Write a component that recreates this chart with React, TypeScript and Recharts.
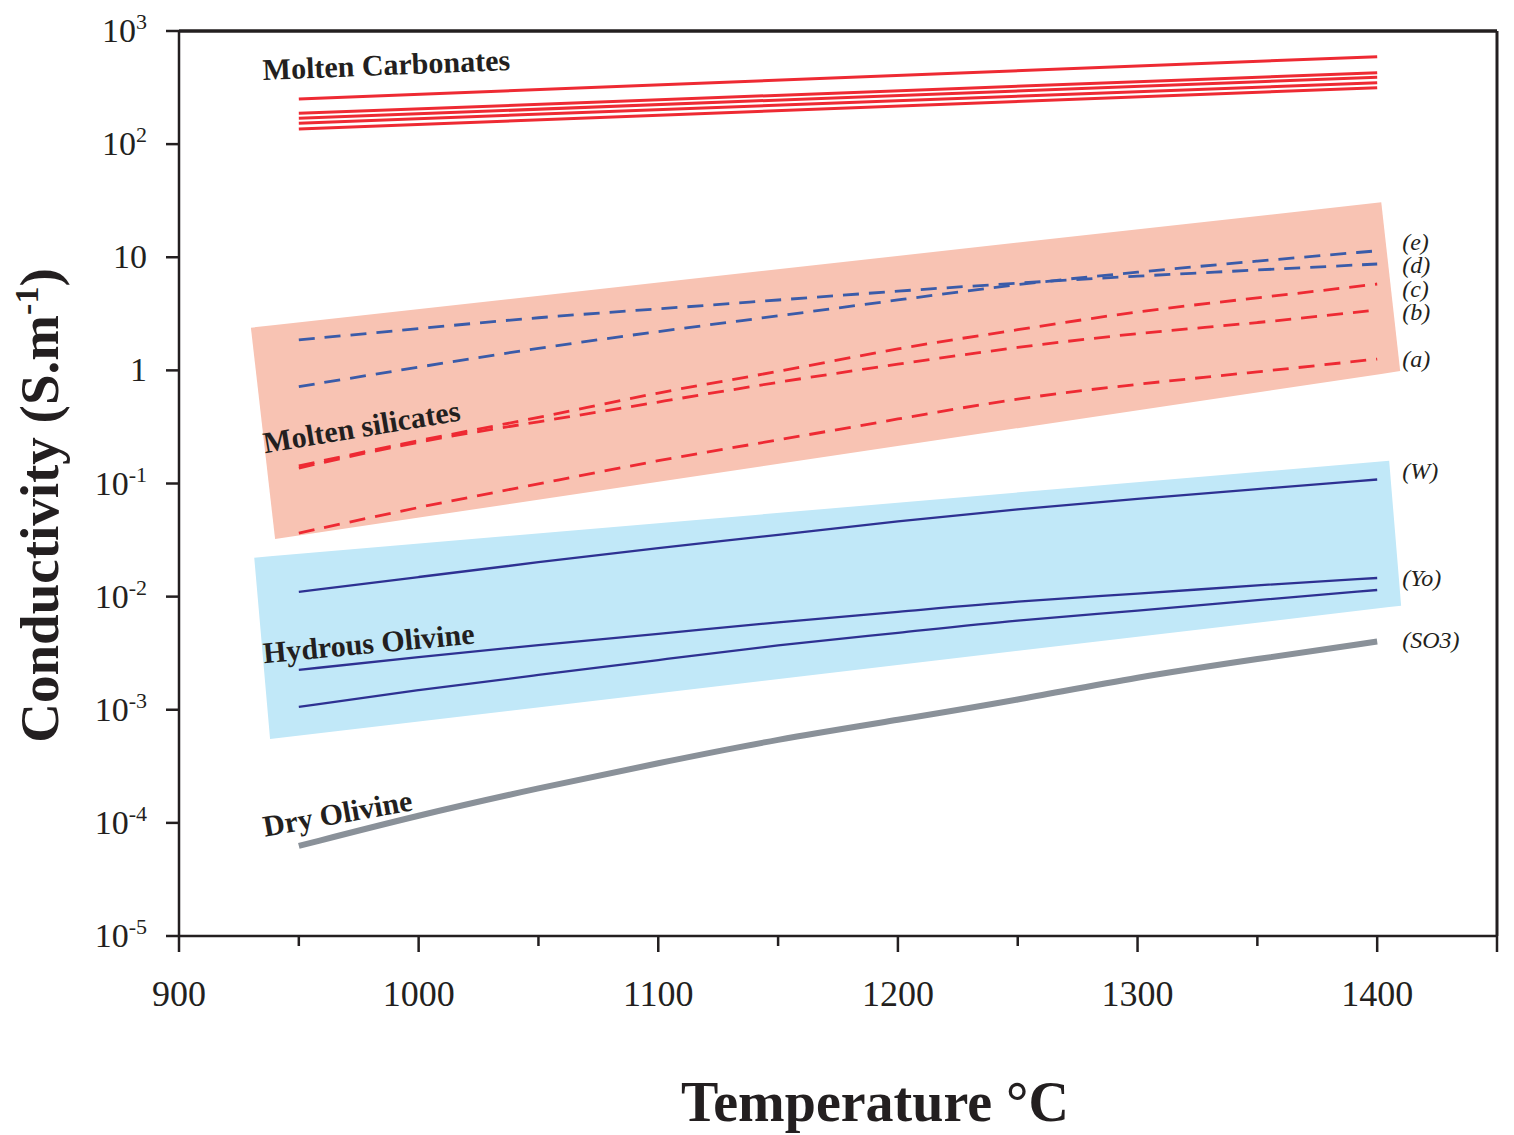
import React from 'react';
import { ComposedChart, Line, Area, XAxis, YAxis, ReferenceLine, ReferenceDot } from 'recharts';

// ---------- data ----------
const temps = [950, 1000, 1050, 1100, 1150, 1200, 1250, 1300, 1350, 1400];
const carbTemps = [950, 1400];

// Molten carbonates (S/m)
const carbonate1 = [251, 593];
const carbonate2 = [187, 428];
const carbonate3 = [169, 390];
const carbonate4 = [153, 349];
const carbonate5 = [136, 315];

// Molten silicates (S/m)
const silicateE = [0.718, 1.07, 1.58, 2.21, 3.03, 4.19, 5.8, 7.41, 9.26, 11.4];
const silicateD = [1.86, 2.34, 2.95, 3.49, 4.19, 5.03, 5.92, 6.83, 7.72, 8.72];
const silicateC = [0.143, 0.242, 0.379, 0.644, 0.967, 1.58, 2.28, 3.35, 4.36, 5.8];
const silicateB = [0.137, 0.238, 0.35, 0.525, 0.789, 1.14, 1.61, 2.14, 2.62, 3.42];
const silicateA = [0.0365, 0.062, 0.099, 0.161, 0.242, 0.372, 0.57, 0.758, 0.967, 1.26];

// Hydrous olivine (S/m)
const olivineW = [0.011, 0.0149, 0.0202, 0.0269, 0.0351, 0.0466, 0.0595, 0.073, 0.0894, 0.1085];
const olivineYo = [0.00225, 0.00293, 0.00374, 0.00467, 0.00597, 0.00731, 0.00915, 0.01055, 0.01267, 0.01461];
const olivineLow = [0.00106, 0.0015, 0.00203, 0.00275, 0.00374, 0.00477, 0.00622, 0.00746, 0.00934, 0.01144];

// Dry olivine SO3 (S/m)
const dryOlivine = [0.0000625, 0.000117, 0.000203, 0.000338, 0.000551, 0.000812, 0.00122, 0.00195, 0.00281, 0.00401];

// Shaded fields (corner temperatures, lower / upper conductivity)
const meltBandT = [930.0, 940.1, 1401.7, 1409.6];
const meltBandLow = [2.384, 0.0323, 0.931, 0.987];
const meltBandHigh = [2.384, 2.518, 30.6, 0.987];

const olivineBandT = [931.4, 938.0, 1405.0, 1410.0];
const olivineBandLow = [0.0221, 0.000551, 0.00808, 0.00831];
const olivineBandHigh = [0.0221, 0.0227, 0.159, 0.00831];

// Axis ticks
const xTicks = [900, 950, 1000, 1050, 1100, 1150, 1200, 1250, 1300, 1350, 1400, 1450];
const yTicks = [1e-5, 1e-4, 1e-3, 1e-2, 1e-1, 1, 10, 100, 1000];

// Labels
const regionNames = ['Molten Carbonates', 'Molten silicates', 'Hydrous Olivine', 'Dry Olivine'];
const regionLabelT = [935.1, 935.9, 935.5, 935.9];
const regionLabelV = [369, 0.185, 0.00258, 0.0000755];
const regionLabelAngle = [-2.3, -9.5, -5.3, -10.1];

const endNames = ['(e)', '(d)', '(c)', '(b)', '(a)', '(W)', '(Yo)', '(SO3)'];
const endValues = [silicateE, silicateD, silicateC, silicateB, silicateA, olivineW, olivineYo, dryOlivine].map(
  (s) => s[s.length - 1]
);
const endShift = [-9, 1, 5, 2, 0, -8, 0, -2];

// ---------- helpers ----------
const toSeries = (xs: number[], ys: number[]) => xs.map((t, i) => ({ t, v: ys[i] }));
const toBand = (xs: number[], lo: number[], hi: number[]) => xs.map((t, i) => ({ t, range: [lo[i], hi[i]] }));

const INK = '#231F20';
const FONT = '"Liberation Serif", "Times New Roman", Times, serif';
const RED = '#EE2A33';
const DASH_BLUE = '#3A5BA9';
const DARK_BLUE = '#2E3192';
const GRAY = '#8A9199';

function XTick(props: any) {
  const { x, y, payload } = props;
  const v = payload.value;
  const major = v % 100 === 0 || v === 1450;
  return (
    <g>
      <line x1={x} x2={x} y1={y} y2={y + (major ? 16 : 10)} stroke={INK} strokeWidth={2.5} />
      {v % 100 === 0 ? (
        <text x={x} y={y + 70} textAnchor="middle" fontFamily={FONT} fontSize={36} fill={INK}>
          {v}
        </text>
      ) : null}
    </g>
  );
}

function YTick(props: any) {
  const { x, y, payload } = props;
  const e = Math.round(Math.log10(payload.value));
  return (
    <g>
      <line x1={x - 13} x2={x} y1={y} y2={y} stroke={INK} strokeWidth={2.5} />
      <text x={x - 32} y={y + 11} textAnchor="end" fontFamily={FONT} fontSize={34} fill={INK}>
        {e === 0 ? '1' : e === 1 ? '10' : (
          <>
            <tspan>10</tspan>
            <tspan dy={-13} fontSize={22}>{String(e)}</tspan>
          </>
        )}
      </text>
    </g>
  );
}

function YTitle(props: any) {
  const vb = props.viewBox || { x: 0, y: 23, width: 171, height: 905 };
  const cx = vb.x + 50;
  const cy = vb.y + vb.height / 2 + 22;
  return (
    <text
      x={cx}
      y={cy}
      transform={`rotate(-90 ${cx} ${cy})`}
      textAnchor="middle"
      fontFamily={FONT}
      fontWeight="bold"
      fontSize={55}
      fill={INK}
    >
      Conductivity (S.m
      <tspan dy={-20} fontSize={34}>-1</tspan>
      <tspan dy={20}>)</tspan>
    </text>
  );
}

function XTitle(props: any) {
  const vb = props.viewBox || { x: 171, y: 928, width: 1318, height: 199 };
  const cx = vb.x + vb.width / 2 + 37;
  const cy = vb.y + 185;
  return (
    <text x={cx} y={cy} textAnchor="middle" fontFamily={FONT} fontWeight="bold" fontSize={56} fill={INK}>
      Temperature °C
    </text>
  );
}

function RegionText(props: any) {
  const { viewBox, caption, rot } = props;
  if (!viewBox) return null;
  const x = viewBox.x + (viewBox.width || 0) / 2;
  const y = viewBox.y + (viewBox.height || 0) / 2;
  return (
    <text
      x={x}
      y={y}
      transform={`rotate(${rot} ${x} ${y})`}
      fontFamily={FONT}
      fontWeight="bold"
      fontSize={30}
      fill={INK}
    >
      {caption}
    </text>
  );
}

function EndText(props: any) {
  const { viewBox, caption, shift } = props;
  if (!viewBox) return null;
  const x = viewBox.x + (viewBox.width || 0) / 2;
  const y = viewBox.y + (viewBox.height || 0) / 2;
  return (
    <text x={x + 25} y={y + shift + 8} fontFamily={FONT} fontStyle="italic" fontSize={24} fill={INK}>
      {caption}
    </text>
  );
}

export default function App() {
  const carbs = [carbonate1, carbonate2, carbonate3, carbonate4, carbonate5];
  const silicatesBlue = [silicateE, silicateD];
  const silicatesRed = [silicateC, silicateB, silicateA];
  const hydrous = [olivineW, olivineYo, olivineLow];

  return (
    <div style={{ width: 1506, height: 1127 }}>
      <ComposedChart width={1506} height={1127} margin={{ top: 23, right: 17, bottom: 0, left: 0 }}>
        <XAxis
          type="number"
          dataKey="t"
          domain={[900, 1450]}
          ticks={xTicks}
          interval={0}
          allowDataOverflow
          height={199}
          tickSize={0}
          tickMargin={0}
          tickLine={false}
          tick={<XTick />}
          axisLine={{ stroke: INK, strokeWidth: 2.5 }}
          label={<XTitle />}
        />
        <YAxis
          type="number"
          scale="log"
          domain={[1e-5, 1e3]}
          ticks={yTicks}
          interval={0}
          allowDataOverflow
          width={171}
          tickSize={0}
          tickMargin={0}
          tickLine={false}
          tick={<YTick />}
          axisLine={{ stroke: INK, strokeWidth: 2.5 }}
          label={<YTitle />}
        />

        <Area
          data={toBand(meltBandT, meltBandLow, meltBandHigh)}
          dataKey="range"
          type="linear"
          stroke="none"
          fill="#F8C3B3"
          fillOpacity={1}
          isAnimationActive={false}
          dot={false}
          activeDot={false}
        />
        <Area
          data={toBand(olivineBandT, olivineBandLow, olivineBandHigh)}
          dataKey="range"
          type="linear"
          stroke="none"
          fill="#C1E8F8"
          fillOpacity={1}
          isAnimationActive={false}
          dot={false}
          activeDot={false}
        />

        {carbs.map((s, i) => (
          <Line
            key={`carb${i}`}
            data={toSeries(carbTemps, s)}
            dataKey="v"
            type="linear"
            stroke={RED}
            strokeWidth={3}
            dot={false}
            activeDot={false}
            isAnimationActive={false}
          />
        ))}
        {silicatesBlue.map((s, i) => (
          <Line
            key={`sb${i}`}
            data={toSeries(temps, s)}
            dataKey="v"
            type="basis"
            stroke={DASH_BLUE}
            strokeWidth={2.8}
            strokeDasharray="16 10"
            dot={false}
            activeDot={false}
            isAnimationActive={false}
          />
        ))}
        {silicatesRed.map((s, i) => (
          <Line
            key={`sr${i}`}
            data={toSeries(temps, s)}
            dataKey="v"
            type="basis"
            stroke={RED}
            strokeWidth={2.8}
            strokeDasharray="16 10"
            dot={false}
            activeDot={false}
            isAnimationActive={false}
          />
        ))}
        {hydrous.map((s, i) => (
          <Line
            key={`ho${i}`}
            data={toSeries(temps, s)}
            dataKey="v"
            type="basis"
            stroke={DARK_BLUE}
            strokeWidth={2.3}
            dot={false}
            activeDot={false}
            isAnimationActive={false}
          />
        ))}
        <Line
          data={toSeries(temps, dryOlivine)}
          dataKey="v"
          type="basis"
          stroke={GRAY}
          strokeWidth={6}
          dot={false}
          activeDot={false}
          isAnimationActive={false}
        />

        <ReferenceLine y={1000} stroke={INK} strokeWidth={3.5} />
        <ReferenceLine x={1450} stroke={INK} strokeWidth={3} />

        {regionNames.map((name, i) => (
          <ReferenceDot
            key={`rl${i}`}
            x={regionLabelT[i]}
            y={regionLabelV[i]}
            r={0}
            fill="none"
            stroke="none"
            label={<RegionText caption={name} rot={regionLabelAngle[i]} />}
          />
        ))}
        {endNames.map((name, i) => (
          <ReferenceDot
            key={`el${i}`}
            x={1400}
            y={endValues[i]}
            r={0}
            fill="none"
            stroke="none"
            label={<EndText caption={name} shift={endShift[i]} />}
          />
        ))}
      </ComposedChart>
    </div>
  );
}
